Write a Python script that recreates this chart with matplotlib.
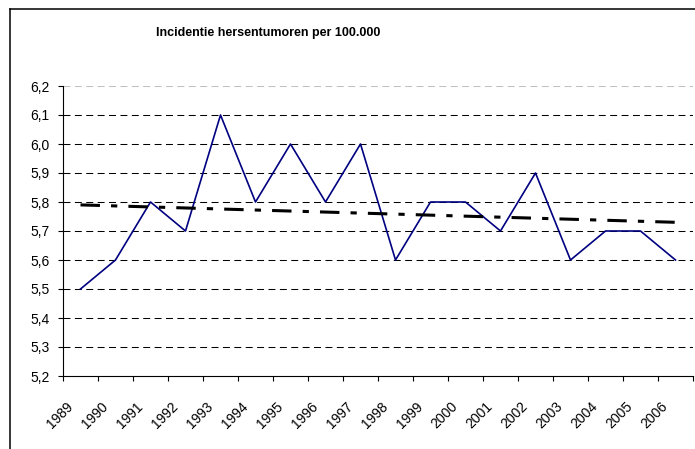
import matplotlib
matplotlib.use("Agg")
import matplotlib.pyplot as plt
import matplotlib.transforms as mtransforms
from matplotlib.lines import Line2D

# data
years = ["1989", "1990", "1991", "1992", "1993", "1994", "1995", "1996", "1997",
         "1998", "1999", "2000", "2001", "2002", "2003", "2004", "2005", "2006"]
incidence = [5.5, 5.6, 5.8, 5.7, 6.1, 5.8, 6.0, 5.8, 6.0,
             5.6, 5.8, 5.8, 5.7, 5.9, 5.6, 5.7, 5.7, 5.6]
trend_years = ["1989", "2006"]
trend_values = [5.79, 5.73]
y_ticks = [5.2, 5.3, 5.4, 5.5, 5.6, 5.7, 5.8, 5.9, 6.0, 6.1, 6.2]
y_tick_labels = ["5,2", "5,3", "5,4", "5,5", "5,6", "5,7", "5,8", "5,9", "6,0", "6,1", "6,2"]
title = "Incidentie hersentumoren per 100.000"

plt.rcParams['font.family'] = ['Liberation Sans', 'DejaVu Sans']
plt.rcParams['lines.scale_dashes'] = False

W, H = 695, 449
fig = plt.figure(figsize=(W / 100, H / 100), dpi=100)
ax = fig.add_axes([63 / W, (H - 376) / H, (693 - 63) / W, (376 - 86) / H])

xpos = list(range(len(years)))
ax.set_xlim(-0.5, len(years) - 0.5)
ax.set_ylim(y_ticks[0], y_ticks[-1])

# gridlines
for v in y_ticks[1:]:
    col = '#c0c0c0' if v == y_ticks[-1] else '#000000'
    ax.axhline(v, color=col, lw=0.75, dashes=(5, 3.2), zorder=1)

# data line
ax.plot(xpos, incidence, color='#000080', lw=1.2, zorder=3)

# trend line
tx = [years.index(t) for t in trend_years]
ax.plot(tx, trend_values, color='black', lw=2.2, dashes=(14, 8, 4.5, 8),
        solid_capstyle='butt', dash_capstyle='butt', zorder=4)

# axes styling
for s in ['top', 'right']:
    ax.spines[s].set_visible(False)
for s in ['left', 'bottom']:
    ax.spines[s].set_linewidth(0.8)
    ax.spines[s].set_color('black')

ax.set_yticks(y_ticks)
ax.set_yticklabels(y_tick_labels, fontsize=10)
ax.tick_params(axis='y', length=3.6, width=0.8, pad=6, direction='out')

ax.set_xticks(xpos)
ax.set_xticklabels(years, fontsize=10, rotation=45, ha='right', va='top')
ax.set_xticks([i - 0.5 for i in range(len(years) + 1)], minor=True)
ax.tick_params(axis='x', which='major', length=0, pad=17)
ax.tick_params(axis='x', which='minor', length=3.6, width=0.8, direction='out')
offset = mtransforms.ScaledTranslation(-5 / 100, 0, fig.dpi_scale_trans)
for lab in ax.get_xticklabels():
    lab.set_transform(lab.get_transform() + offset)

fig.text(268 / W, 1 - 33 / H, title, ha='center', va='center',
         fontsize=9, fontweight='bold')

# chart area border (right and bottom are cropped in the original)
fig.add_artist(Line2D([10 / W, 10 / W], [0, 1 - 9 / H], color='black', lw=1.1,
                      transform=fig.transFigure))
fig.add_artist(Line2D([10 / W, 1], [1 - 9 / H, 1 - 9 / H], color='black', lw=1.1,
                      transform=fig.transFigure))

fig.savefig("out.png", dpi=100)
